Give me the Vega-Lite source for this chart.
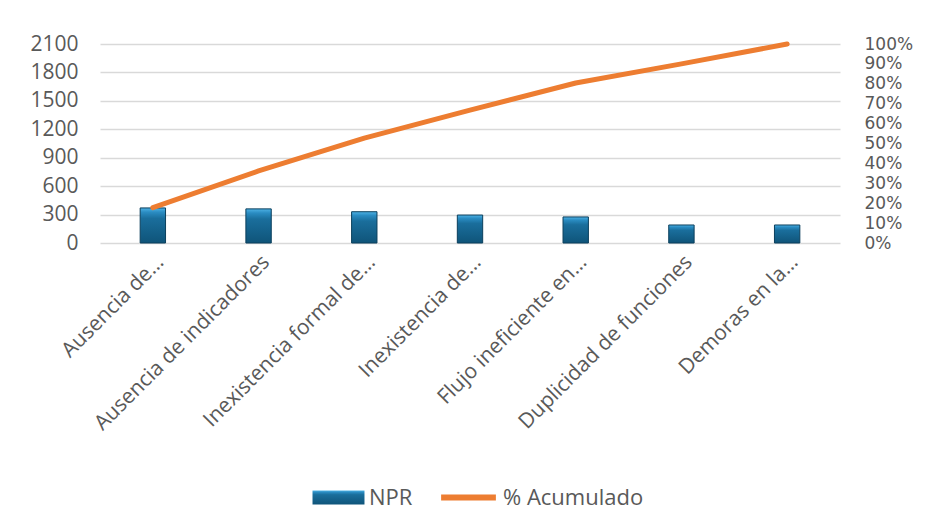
{
  "$schema": "https://vega.github.io/schema/vega-lite/v6.json",
  "width": 740,
  "height": 199,
  "autosize": {"type": "none"},
  "padding": {"left": 100, "top": 44, "right": 90, "bottom": 288},
  "background": "white",
  "data": {
    "values": [
      {"causa": "Ausencia de…", "NPR": 370, "acum": 0.178},
      {"causa": "Ausencia de indicadores", "NPR": 360, "acum": 0.362},
      {"causa": "Inexistencia formal de…", "NPR": 330, "acum": 0.527},
      {"causa": "Inexistencia de…", "NPR": 295, "acum": 0.668},
      {"causa": "Flujo ineficiente en…", "NPR": 275, "acum": 0.804},
      {"causa": "Duplicidad de funciones", "NPR": 190, "acum": 0.900},
      {"causa": "Demoras en la…", "NPR": 190, "acum": 1.0}
    ]
  },
  "config": {
    "view": {"stroke": null},
    "font": "Open Sans",
    "axis": {
      "labelColor": "#595959",
      "labelFontSize": 21,
      "labelOverlap": false,
      "domain": false,
      "ticks": false,
      "title": null,
      "gridColor": "#D9D9D9",
      "gridWidth": 1.5
    },
    "legend": {
      "title": null,
      "orient": "none",
      "labelFontSize": 22,
      "labelColor": "#595959",
      "labelOffset": 4
    }
  },
  "layer": [
    {
      "mark": {
        "type": "bar",
        "strokeWidth": 1,
        "stroke": "#0B3F5C",
        "fill": {
          "gradient": "linear",
          "x1": 0, "y1": 0, "x2": 0, "y2": 1,
          "stops": [
            {"offset": 0, "color": "#4FB3E6"},
            {"offset": 0.12, "color": "#2A8CC2"},
            {"offset": 0.3, "color": "#1A6E9C"},
            {"offset": 1, "color": "#0F5479"}
          ]
        }
      },
      "encoding": {
        "x": {
          "field": "causa",
          "type": "nominal",
          "sort": null,
          "scale": {"paddingInner": 0.76, "paddingOuter": 0.38},
          "axis": {"labelAngle": -45, "labelLimit": 0, "labelPadding": 8, "labelDx": 16, "grid": false}
        },
        "y": {
          "field": "NPR",
          "type": "quantitative",
          "scale": {"domain": [0, 2100]},
          "axis": {"values": [0, 300, 600, 900, 1200, 1500, 1800, 2100], "format": "d", "grid": true, "labelPadding": 22}
        },
        "opacity": {
          "datum": "NPR",
          "type": "nominal",
          "scale": {"domain": ["NPR"], "range": [1]},
          "legend": {
            "legendX": 212,
            "legendY": 427,
            "symbolType": "M-1,-0.27H1V0.27H-1Z",
            "symbolSize": 2700,
            "symbolStrokeColor": "#0B3F5C",
            "symbolStrokeWidth": 1
          }
        }
      }
    },
    {
      "mark": {"type": "line", "strokeWidth": 5, "strokeCap": "round", "strokeJoin": "round"},
      "encoding": {
        "x": {"field": "causa", "type": "nominal", "sort": null},
        "y": {
          "field": "acum",
          "type": "quantitative",
          "scale": {"domain": [0, 1]},
          "axis": {"orient": "right", "format": ".0%", "values": [0, 0.1, 0.2, 0.3, 0.4, 0.5, 0.6, 0.7, 0.8, 0.9, 1], "grid": false, "labelPadding": 24, "labelFontSize": 17, "labelFont": "DejaVu Sans"}
        },
        "stroke": {
          "datum": "% Acumulado",
          "type": "nominal",
          "scale": {"domain": ["% Acumulado"], "range": ["#ED7D31"]},
          "legend": {
            "legendX": 338,
            "legendY": 423,
            "symbolType": "stroke",
            "symbolSize": 3000,
            "symbolStrokeWidth": 6
          }
        }
      }
    }
  ],
  "resolve": {"scale": {"y": "independent"}}
}
